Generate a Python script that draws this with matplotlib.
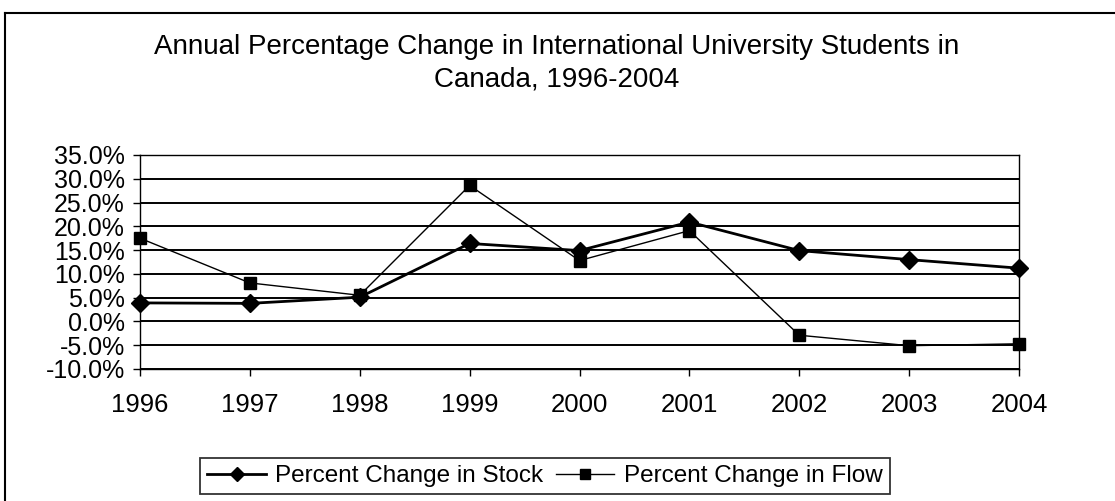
import numpy as np
import matplotlib.pyplot as plt
from matplotlib.lines import Line2D

# valori
anni = [1996, 1997, 1998, 1999, 2000, 2001, 2002, 2003, 2004]
stock = [3.9, 3.8, 5.1, 16.4, 14.9, 20.9, 14.9, 13.0, 11.2]
flow = [17.5, 8.1, 5.5, 28.6, 12.8, 19.1, -2.9, -5.1, -4.7]
yticks = [-10, -5, 0, 5, 10, 15, 20, 25, 30, 35]

plt.rcParams['font.family'] = ['Liberation Sans', 'DejaVu Sans']

W, H = 1115, 501
fig = plt.figure(figsize=(W / 100, H / 100), dpi=100)
ax = fig.add_axes([140 / W, 1 - 369 / H, (1019 - 140) / W, (369 - 155) / H])

ax.plot(anni, stock, color='black', linewidth=2, marker='D', markersize=9.5,
        label='Percent Change in Stock', clip_on=False, zorder=4)
ax.plot(anni, flow, color='black', linewidth=1, marker='s', markersize=9,
        label='Percent Change in Flow', clip_on=False, zorder=3)

ax.set_xlim(1996, 2004)
ax.set_ylim(-10, 35)
ax.set_xticks(anni)
ax.set_xticklabels([str(a) for a in anni], fontsize=18.5)
ax.set_yticks(yticks)
ax.set_yticklabels(['%.1f%%' % v for v in yticks], fontsize=18)
ax.tick_params(axis='x', direction='out', length=5, width=1, pad=12)
ax.tick_params(axis='y', direction='out', length=5, width=1, pad=6)
ax.yaxis.grid(True, color='black', linewidth=1.4)
ax.set_axisbelow(True)
for s in ax.spines.values():
    s.set_linewidth(1)
    s.set_color('black')

# titolo
fig.text(557 / W, 1 - 47 / H, 'Annual Percentage Change in International University Students in',
         ha='center', va='center', fontsize=20)
fig.text(557 / W, 1 - 80 / H, 'Canada, 1996-2004', ha='center', va='center', fontsize=20)

# legenda
leg = fig.legend(loc='center', bbox_to_anchor=(545 / W, 1 - 476 / H), ncol=2,
                 fontsize=17.5, frameon=True, fancybox=False, edgecolor='black',
                 handlelength=2.4, columnspacing=0.5, handletextpad=0.4,
                 borderpad=0.3, markerscale=0.75)
leg.get_frame().set_linewidth(1.3)

# cornice esterna (solo lato sinistro e superiore visibili)
fig.add_artist(Line2D([5 / W, 5 / W], [0, 1 - 13 / H], transform=fig.transFigure,
                      color='black', linewidth=1.5))
fig.add_artist(Line2D([5 / W, 1], [1 - 13 / H, 1 - 13 / H], transform=fig.transFigure,
                      color='black', linewidth=1.5))

fig.savefig('out.png', dpi=100)
